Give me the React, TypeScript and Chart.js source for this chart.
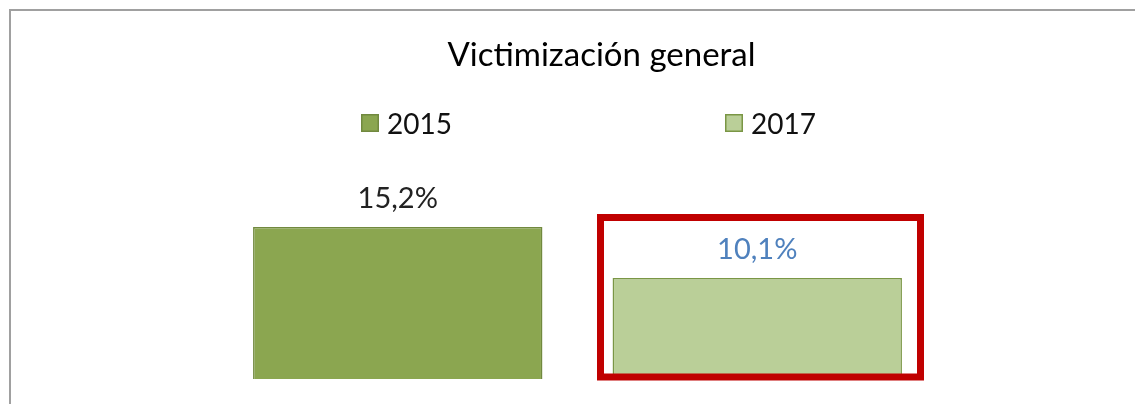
import React, { useEffect, useRef } from "react";
import { Chart, registerables } from "chart.js";

Chart.register(...registerables);

const categories = ["Victimización general"];
const seriesLabels = ["2015", "2017"];
const values2015 = [15.2];
const values2017 = [10.1];
const titleText = "Victimización general";

const FONT = "Lato, 'Noto Sans', sans-serif";

const fmt = (v: number) => v.toFixed(1).replace(".", ",") + "%";

const overlayPlugin = {
  id: "overlay",
  afterDraw(chart: any) {
    const ctx = chart.ctx as CanvasRenderingContext2D;
    ctx.save();
    // frame
    ctx.strokeStyle = "#a0a0a0";
    ctx.lineWidth = 2;
    ctx.beginPath();
    ctx.moveTo(10, 404);
    ctx.lineTo(10, 10);
    ctx.lineTo(1135, 10);
    ctx.stroke();

    // title
    ctx.fillStyle = "#000000";
    ctx.font = `33px ${FONT}`;
    ctx.textAlign = "center";
    ctx.textBaseline = "alphabetic";
    ctx.fillText(titleText, 601.5, 66);

    // legend
    const legendX = [361, 725];
    chart.data.datasets.forEach((ds: any, i: number) => {
      const x = legendX[i];
      ctx.fillStyle = ds.backgroundColor;
      ctx.strokeStyle = ds.borderColor;
      ctx.lineWidth = 1.5;
      ctx.fillRect(x, 114, 18, 18);
      ctx.strokeRect(x + 0.75, 114.75, 16.5, 16.5);
      ctx.fillStyle = "#111111";
      ctx.font = `28px ${FONT}`;
      ctx.textAlign = "left";
      ctx.textBaseline = "alphabetic";
      ctx.fillText(ds.label, x + 26, 134);
    });

    // data labels
    const labelColors = ["#222222", "#4F81BD"];
    chart.data.datasets.forEach((ds: any, i: number) => {
      const meta = chart.getDatasetMeta(i);
      meta.data.forEach((bar: any, j: number) => {
        ctx.fillStyle = labelColors[i];
        ctx.font = `29px ${FONT}`;
        ctx.textAlign = "center";
        ctx.textBaseline = "alphabetic";
        ctx.fillText(fmt(ds.data[j]), bar.x, bar.y - 19.5);
      });
    });

    // highlight box around 2017 bar
    const b = chart.getDatasetMeta(1).data[0] as any;
    ctx.strokeStyle = "#C00000";
    ctx.lineWidth = 7;
    const left = b.x - 156.75;
    const right = b.x + 163.25;
    const top = b.y - 60.5;
    const bottom = b.base - 2;
    ctx.strokeRect(left, top, right - left, bottom - top);
    ctx.restore();
  },
};

export default function App() {
  const ref = useRef<HTMLCanvasElement | null>(null);
  useEffect(() => {
    if (!ref.current) return;
    const chart = new Chart(ref.current, {
      type: "bar",
      data: {
        labels: categories,
        datasets: [
          {
            label: seriesLabels[0],
            data: values2015,
            backgroundColor: "#8BA650",
            borderColor: "#71893F",
            borderWidth: 1.5,
            barPercentage: 0.805,
            categoryPercentage: 1,
          },
          {
            label: seriesLabels[1],
            data: values2017,
            backgroundColor: "#BACF98",
            borderColor: "#7A9645",
            borderWidth: 1.5,
            barPercentage: 0.805,
            categoryPercentage: 1,
          },
        ],
      },
      options: {
        responsive: false,
        animation: false,
        layout: { padding: { left: 218, right: 198, top: 179, bottom: 25 } },
        plugins: {
          legend: { display: false },
          title: { display: false },
          tooltip: { enabled: false },
        },
        scales: {
          x: { display: false },
          y: { display: false, min: 0, max: 20 },
        },
      },
      plugins: [overlayPlugin],
    });
    return () => chart.destroy();
  }, []);
  return (
    <div style={{ position: "fixed", left: 0, top: 0, width: 1135, height: 404, background: "#ffffff" }}>
      <canvas ref={ref} width={1135} height={404} style={{ display: "block" }} />
    </div>
  );
}
